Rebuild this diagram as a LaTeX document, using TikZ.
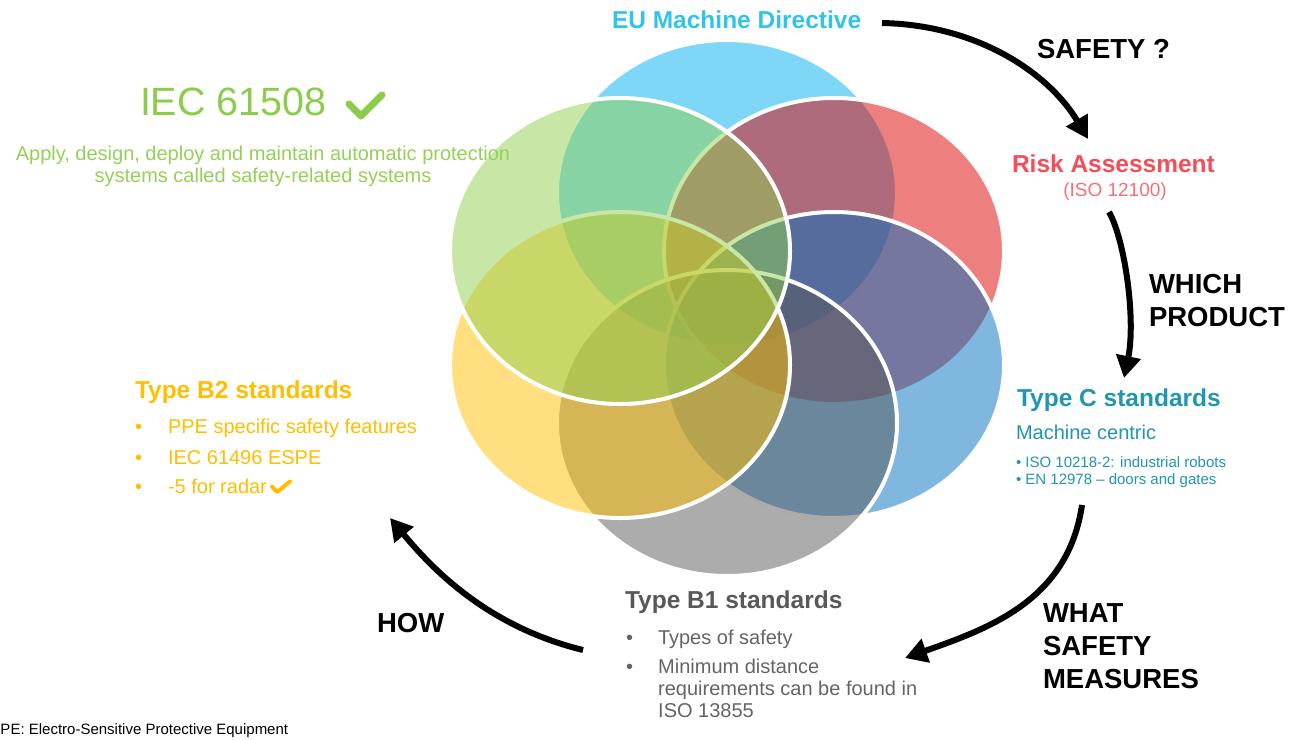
\documentclass[tikz,border=0pt]{standalone}
\usepackage{fontspec}
\setmainfont{Liberation Sans}
\usetikzlibrary{arrows.meta}

% petal fills
\definecolor{pCyan}{RGB}{0,176,240}
\definecolor{pRed}{RGB}{220,0,0}
\definecolor{pBlue}{RGB}{0,112,192}
\definecolor{pGray}{RGB}{89,89,89}
\definecolor{pGold}{RGB}{255,192,0}
\definecolor{pGreen}{RGB}{146,208,80}
% text colours
\definecolor{tCyan}{RGB}{50,196,232}
\definecolor{tRed}{RGB}{244,78,88}
\definecolor{tRedL}{RGB}{246,112,122}
\definecolor{tTeal}{RGB}{32,150,178}
\definecolor{tGray}{RGB}{88,88,88}
\definecolor{tGrayL}{RGB}{100,100,100}
\definecolor{tGold}{RGB}{255,190,0}
\definecolor{tGreen}{RGB}{140,204,76}
\definecolor{tGreenL}{RGB}{150,208,86}

\begin{document}
\begin{tikzpicture}[x=1pt,y=-1pt,
  petal/.style={fill opacity=0.5, draw=white, line width=4pt},
  txt/.style={inner sep=0pt, outer sep=0pt, anchor=base west},
  head/.style={txt, font=\fontsize{24.5}{29}\selectfont\bfseries},
  qlabel/.style={inner sep=0pt, outer sep=0pt, anchor=north west, align=left,
                 text=black, font=\fontsize{27.5}{33}\selectfont\bfseries},
  body/.style={txt, font=\fontsize{20}{22}\selectfont},
  conn/.style={line width=6pt, -{Triangle[length=22pt,width=24pt]}},
  tick/.style={line cap=round, line join=round}
]
\useasboundingbox (0,0) rectangle (1295,739);

% six overlapping petals, drawn clockwise from the top
\path[petal, fill=pCyan]  (727,193) ellipse [x radius=170pt, y radius=153pt];
\path[petal, fill=pRed]   (834,251) ellipse [x radius=170pt, y radius=153pt];
\path[petal, fill=pBlue]  (834,365) ellipse [x radius=170pt, y radius=153pt];
\path[petal, fill=pGray]  (727,423) ellipse [x radius=170pt, y radius=153pt];
\path[petal, fill=pGold]  (620,365) ellipse [x radius=170pt, y radius=153pt];
\path[petal, fill=pGreen] (620,251) ellipse [x radius=170pt, y radius=153pt];

% EU directive and risk assessment
\node[head, text=tCyan] (eu) at (612,28.7) {EU Machine Directive};
\node[txt, font=\fontsize{27.5}{33}\selectfont\bfseries] (safety) at (1037,58) {SAFETY ?};
\node[head, text=tRed] (risk) at (1012,172.5) {Risk Assessment};
\node[txt, anchor=base, text=tRedL, font=\fontsize{19}{22}\selectfont] (iso) at (1115,196.5) {(ISO 12100)};
\node[qlabel] (which) at (1149,274) {WHICH\\PRODUCT};

% type C
\node[head, text=tTeal] (typeC) at (1017,406) {Type C standards};
\node[txt, text=tTeal, font=\fontsize{20}{22}\selectfont] (machine) at (1016,439) {Machine centric};
\node[txt, text=tTeal, font=\fontsize{15}{17.5}\selectfont] (c1) at (1016,467) {• ISO 10218-2: industrial robots};
\node[txt, text=tTeal, font=\fontsize{15}{17.5}\selectfont] (c2) at (1016,484.5) {• EN 12978 – doors and gates};

% type B1
\node[head, text=tGray] (typeB1) at (625,608) {Type B1 standards};
\node[body, text=tGrayL] (b1dot1) at (626,644) {•};
\node[body, text=tGrayL] (b1a) at (658,644) {Types of safety};
\node[body, text=tGrayL] (b1dot2) at (626,673) {•};
\node[inner sep=0pt, anchor=north west, align=left, text=tGrayL,
      font=\fontsize{20}{22}\selectfont] (b1b) at (658,658.5)
      {Minimum distance\\requirements can be found in\\ISO 13855};

\node[qlabel] (what) at (1043,604) {WHAT\\SAFETY\\MEASURES};
\node[txt, font=\fontsize{27.5}{33}\selectfont\bfseries] (how) at (377,632) {HOW};

% type B2
\node[head, text=tGold] (typeB2) at (135,398) {Type B2 standards};
\node[body, text=tGold] (b2dot1) at (135,433) {•};
\node[body, text=tGold] (b2a) at (168,433) {PPE specific safety features};
\node[body, text=tGold] (b2dot2) at (135,464.5) {•};
\node[body, text=tGold] (b2b) at (168,464.5) {IEC 61496 ESPE};
\node[body, text=tGold] (b2dot3) at (135,493.5) {•};
\node[body, text=tGold] (b2c) at (168,493.5) {-5 for radar};
\draw[tick, draw=tGold, line width=4pt] (272,486.5) -- (277,492) -- (290,481.5);

% IEC 61508
\node[txt, text=tGreen, font=\fontsize{39.5}{44}\selectfont] (iec) at (140,115) {IEC 61508};
\draw[tick, draw=tGreen, line width=7pt] (349,104) -- (361,116) -- (382,95);
\node[inner sep=0pt, anchor=north, align=center, text=tGreenL,
      font=\fontsize{20}{22.4}\selectfont] (apply) at (263,145.5)
      {Apply, design, deploy and maintain automatic protection\\systems called safety-related systems};

% footnote
\node[txt, text=black, font=\fontsize{15}{17}\selectfont] (foot) at (0.5,734) {PE: Electro-Sensitive Protective Equipment};

% flow arrows around the petals
\coordinate (a1s) at (882,23);   \coordinate (a1e) at (1088,139);
\coordinate (a2s) at (1109,212); \coordinate (a2e) at (1124,378);
\coordinate (a3s) at (1082,505); \coordinate (a3e) at (905,658);
\coordinate (a4s) at (583,650);  \coordinate (a4e) at (390,518);
\draw[conn] (a1s) .. controls (980,25) and (1050,75) .. (a1e);
\draw[conn] (a2s) .. controls (1125,240) and (1136,320) .. (a2e);
\draw[conn] (a3s) .. controls (1068,600) and (990,628) .. (a3e);
\draw[conn] (a4s) .. controls (485,626) and (430,566) .. (a4e);
\end{tikzpicture}
\end{document}
